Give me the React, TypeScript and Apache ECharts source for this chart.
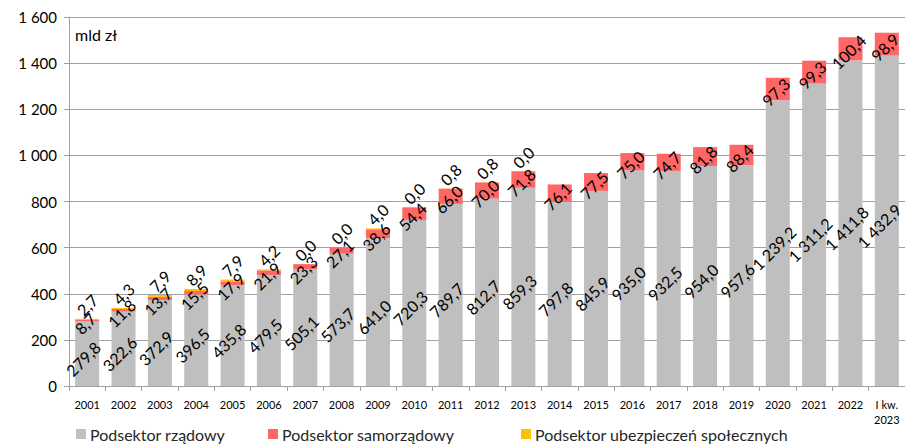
import React, { useEffect, useRef } from "react";
import * as echarts from "echarts";

const categories = ["2001","2002","2003","2004","2005","2006","2007","2008","2009","2010","2011","2012","2013","2014","2015","2016","2017","2018","2019","2020","2021","2022","I kw.\n2023"];
const rzadowy = [279.8,322.6,372.9,396.5,435.8,479.5,505.1,573.7,641.0,720.3,789.7,812.7,859.3,797.8,845.9,935.0,932.5,954.0,957.6,1239.2,1311.2,1411.8,1432.9];
const samorzadowy = [8.7,11.8,13.7,15.5,17.9,21.9,23.3,27.1,38.6,54.4,66.0,70.0,71.8,76.1,77.5,75.0,74.7,81.8,88.4,97.3,99.3,100.4,98.9];
const ubezpieczen = [2.7,4.3,7.9,8.9,7.9,4.2,0.0,0.0,4.0,0.0,0.8,0.8,0.0,null,null,null,null,null,null,null,null,null,null];
const yTicks = [0,200,400,600,800,1000,1200,1400,1600];

const FONT = "Lato, 'Open Sans', sans-serif";

function fmt(v: number): string {
  const fixed = v.toFixed(1);
  const [ip, dp] = fixed.split(".");
  const withSp = ip.replace(/\B(?=(\d{3})+(?!\d))/g, " ");
  return withSp + "," + dp;
}
function fmtInt(v: number): string {
  return String(v).replace(/\B(?=(\d{3})+(?!\d))/g, " ");
}

export default function App() {
  const ref = useRef<HTMLDivElement>(null);
  useEffect(() => {
    if (!ref.current) return;
    const chart = echarts.init(ref.current, null, { renderer: "svg" });
    const labelBase = {
      show: true,
      rotate: 45,
      fontSize: 16,
      fontFamily: FONT,
      color: "#000",
      formatter: (p: any) => (p.value == null ? "" : fmt(p.value)),
    };
    const last = rzadowy.length - 1;
    const rzadowyData = rzadowy.map((v, i) =>
      i === last ? { value: v, label: { offset: [-9, -2] } } : v
    );
    chart.setOption({
      animation: false,
      textStyle: { fontFamily: FONT },
      grid: { left: 69, right: 0, top: 17, bottom: 58, containLabel: false },
      xAxis: {
        type: "category",
        data: categories,
        axisLine: { lineStyle: { color: "#A0A0A0" } },
        axisTick: { show: true, alignWithLabel: false, length: 5, lineStyle: { color: "#A0A0A0" } },
        axisLabel: { fontSize: 11, color: "#000", fontFamily: FONT, margin: 11, lineHeight: 15, interval: 0 },
      },
      yAxis: {
        type: "value",
        min: 0,
        max: 1600,
        interval: 200,
        axisLine: { show: true, lineStyle: { color: "#A0A0A0" } },
        axisTick: { show: true, length: 5, lineStyle: { color: "#A0A0A0" } },
        splitLine: { lineStyle: { color: "#A0A0A0" } },
        axisLabel: {
          fontSize: 15,
          color: "#000",
          fontFamily: FONT,
          margin: 12,
          formatter: (v: number) => (yTicks.includes(v) ? fmtInt(v) : ""),
        },
      },
      legend: [
        { data: ["Podsektor rządowy"], left: 76, top: 426 },
        { data: ["Podsektor samorządowy"], left: 268, top: 426 },
        { data: ["Podsektor ubezpieczeń społecznych"], left: 521, top: 426 },
      ].map((l) => ({
        ...l,
        icon: "rect",
        itemWidth: 10,
        itemHeight: 10,
        itemGap: 0,
        padding: 0,
        textStyle: { fontSize: 16, color: "#262626", fontFamily: FONT, padding: [0, 0, 0, -1] },
      })),
      graphic: [
        { type: "text", left: 75, top: 26, style: { text: "mld zł", fontSize: 16, fill: "#000", fontFamily: FONT } },
      ],
      series: [
        {
          name: "Podsektor rządowy",
          type: "bar",
          stack: "total",
          data: rzadowyData,
          barWidth: 24,
          itemStyle: { color: "#BFBFBF" },
          label: { ...labelBase, position: "inside", offset: [-6.4, 0.7] },
        },
        {
          name: "Podsektor samorządowy",
          type: "bar",
          stack: "total",
          data: samorzadowy,
          barWidth: 24,
          itemStyle: { color: "#FF6666" },
          label: { ...labelBase, position: "inside", offset: [-3.5, 0.7] },
        },
        {
          name: "Podsektor ubezpieczeń społecznych",
          type: "bar",
          stack: "total",
          data: ubezpieczen,
          barWidth: 24,
          itemStyle: { color: "#FFC000" },
          label: { ...labelBase, position: "top", distance: 14, align: "center", verticalAlign: "middle" },
        },
      ],
    });
    return () => chart.dispose();
  }, []);
  return <div ref={ref} style={{ width: 905, height: 444, position: "absolute", left: 0, top: 0 }} />;
}
